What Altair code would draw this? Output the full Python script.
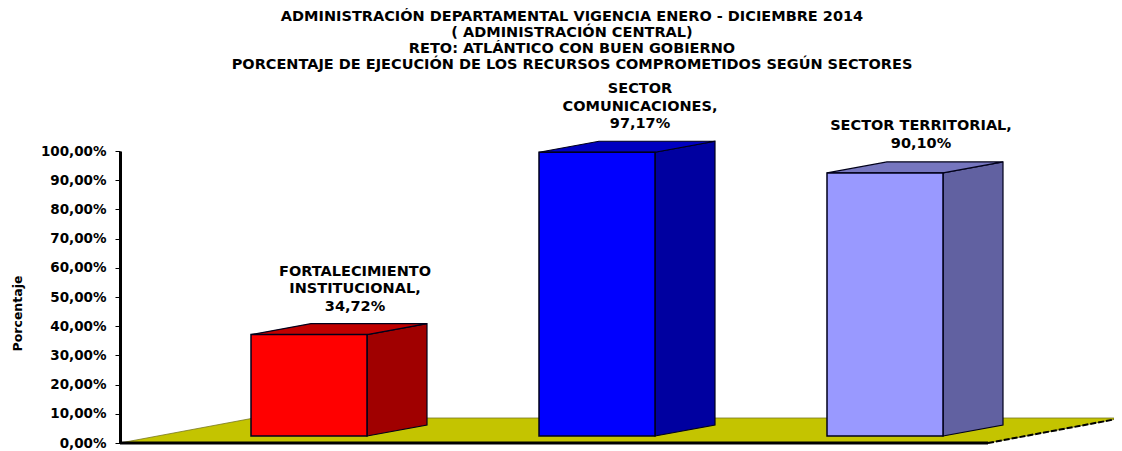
import altair as alt
import pandas as pd

TITLE = ["ADMINISTRACIÓN DEPARTAMENTAL VIGENCIA ENERO - DICIEMBRE 2014",
         "( ADMINISTRACIÓN CENTRAL)",
         "RETO: ATLÁNTICO CON BUEN GOBIERNO",
         "PORCENTAJE DE EJECUCIÓN DE LOS RECURSOS COMPROMETIDOS SEGÚN SECTORES"]
categories = ["FORTALECIMIENTO\nINSTITUCIONAL,", "SECTOR\nCOMUNICACIONES,", "SECTOR TERRITORIAL,"]
values = [34.72, 97.17, 90.10]
value_labels = ["34,72%", "97,17%", "90,10%"]
front_colors = ["#FF0000", "#0000FF", "#9999FF"]
top_colors = ["#C00000", "#0000C0", "#7676BF"]
side_colors = ["#A00000", "#0000A0", "#6161A1"]
FLOOR = "#C4C400"
FONT = "DejaVu Sans"

# Geometry in scale units (x: 1 unit = 1 px; y: percent)
PW, PH = 994, 292
U = PH / 100
FIRST, STEP, BW, DX = 131, 288, 116, 60
BASE = 7 / U          # lift of the bar base above the axis
RISE = 11 / U         # rise of the bar depth
FLOOR_DX, FLOOR_RISE, FLOOR_FRONT = 134, 25 / U, 868
LINE = 17.5
label_x = [235, 520, 801]

front, side, top, labels = [], [], [], []
for i, v in enumerate(values):
    a = FIRST + i * STEP
    b = a + BW
    t = v + BASE
    lines = categories[i].count("\n") + 2
    front.append(dict(x=a, x2=b, y=BASE, y2=t, c=front_colors[i]))
    side += [dict(id=i, x=b, y=BASE, y2=t, c=side_colors[i]),
             dict(id=i, x=b + DX, y=BASE + RISE, y2=t + RISE, c=side_colors[i])]
    top += [dict(id=i, x=a, y=t, y2=t, c=top_colors[i]),
            dict(id=i, x=a + DX, y=t, y2=t + RISE, c=top_colors[i]),
            dict(id=i, x=b, y=t, y2=t + RISE, c=top_colors[i]),
            dict(id=i, x=b + DX, y=t + RISE, y2=t + RISE, c=top_colors[i])]
    labels.append(dict(x=label_x[i], y=t + (23 + 16.5 * (lines - 1)) / U,
                       text=categories[i] + "\n" + value_labels[i]))

floor = pd.DataFrame([
    dict(x=0, y=0, y2=0),
    dict(x=FLOOR_DX, y=0, y2=FLOOR_RISE),
    dict(x=FLOOR_FRONT, y=0, y2=FLOOR_RISE),
    dict(x=FLOOR_FRONT + FLOOR_DX, y=FLOOR_RISE, y2=FLOOR_RISE),
])

xs = alt.Scale(domain=[0, PW], nice=False, zero=False)
ys = alt.Scale(domain=[0, 100], nice=False)
X = alt.X("x:Q", scale=xs, axis=None)
Y = alt.Y("y:Q", scale=ys, axis=alt.Axis(
    values=list(range(0, 101, 10)), grid=False,
    labelExpr="replace(format(datum.value,'.2f'),'.',',')+'%'",
    labelFont=FONT, labelFontWeight="bold", labelFontSize=13.5, labelColor="black",
    labelPadding=9, domainColor="black", domainWidth=3, tickColor="black",
    tickSize=5, tickWidth=1, title="Porcentaje", titleFont=FONT,
    titleFontWeight="bold", titleFontSize=12.5, titleColor="black",
    titleX=-103, titleY=162, titleAngle=270, titleBaseline="middle", titleAlign="center"))

base_layer = alt.Chart(floor).mark_area(color=FLOOR, stroke="#77771f", strokeWidth=0.8).encode(
    x=X, y=Y, y2="y2:Q")
front_edge = alt.Chart(pd.DataFrame([dict(x=0, x2=FLOOR_FRONT, y=0)])).mark_rule(
    color="black", strokeWidth=3).encode(x=X, x2="x2:Q", y=Y)
slant_edge = alt.Chart(pd.DataFrame([dict(x=FLOOR_FRONT, y=0),
                                     dict(x=FLOOR_FRONT + FLOOR_DX, y=FLOOR_RISE)])).mark_line(
    color="black", strokeWidth=2, strokeDash=[6, 2]).encode(x=X, y=Y)
sides = alt.Chart(pd.DataFrame(side)).mark_area(stroke="#00001a", strokeWidth=1.2).encode(
    x=X, y=Y, y2="y2:Q", detail="id:N", color=alt.Color("c:N", scale=None))
tops = alt.Chart(pd.DataFrame(top)).mark_area(stroke="#00001a", strokeWidth=1.2).encode(
    x=X, y=Y, y2="y2:Q", detail="id:N", color=alt.Color("c:N", scale=None))
fronts = alt.Chart(pd.DataFrame(front)).mark_rect(stroke="#00001a", strokeWidth=1.5).encode(
    x=X, x2="x2:Q", y=Y, y2="y2:Q", color=alt.Color("c:N", scale=None))
texts = alt.Chart(pd.DataFrame(labels)).mark_text(
    font=FONT, fontWeight="bold", fontSize=14.5, color="black", lineBreak="\n",
    lineHeight=LINE, align="center", baseline="bottom").encode(
    x=X, y=Y, text="text:N")

chart = alt.layer(base_layer, front_edge, slant_edge, sides, tops, fronts, texts).properties(
    width=PW, height=PH,
    padding={"left": 112, "top": 143, "right": 0, "bottom": 8},
    autosize=alt.AutoSizeParams(type="none"),
    title=alt.TitleParams(TITLE, font=FONT, fontWeight="bold", fontSize=14.5, color="black",
                          anchor="middle", frame="group", dx=-45, offset=9, lineHeight=16),
).configure_view(stroke=None)

chart.save("out.html", embed_options={"renderer": "svg", "actions": False})
